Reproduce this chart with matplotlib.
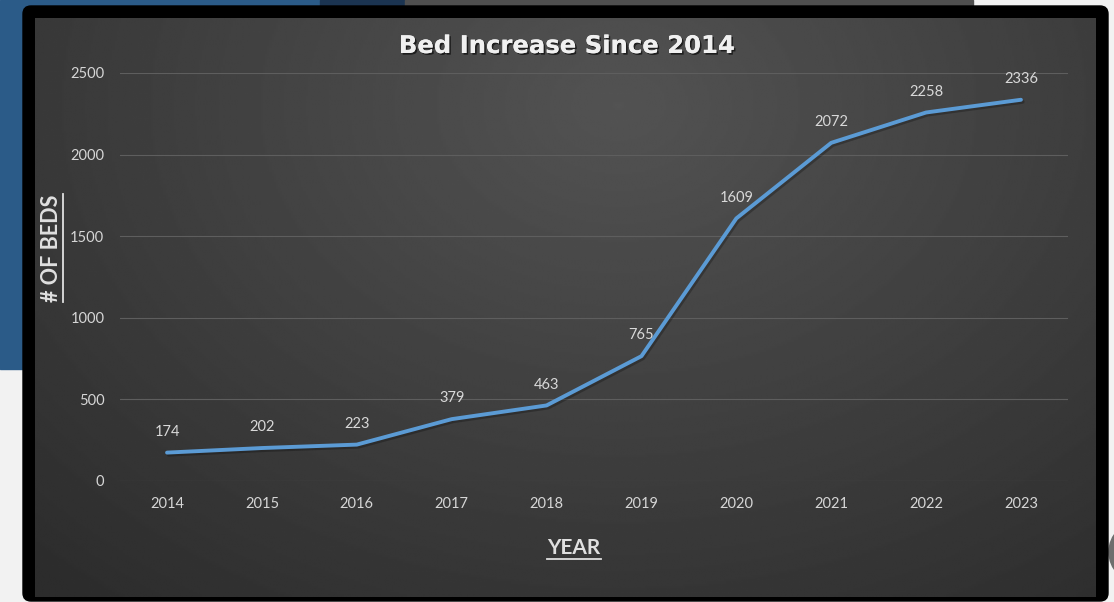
import numpy as np
import matplotlib.pyplot as plt
import matplotlib.patheffects as pe
from matplotlib.patches import Rectangle, FancyBboxPatch, Circle
from matplotlib.lines import Line2D

# Dados do gráfico
anos = ['2014', '2015', '2016', '2017', '2018', '2019', '2020', '2021', '2022', '2023']
leitos = [174, 202, 223, 379, 463, 765, 1609, 2072, 2258, 2336]
marcas_y = [0, 500, 1000, 1500, 2000, 2500]

W, H = 1114, 602
plt.rcParams['font.family'] = ['Lato', 'DejaVu Sans']

fig = plt.figure(figsize=(W / 100, H / 100), dpi=100)
fig.patch.set_facecolor('#f2f2f2')

# Fundo (slide por trás do gráfico), em pixels
bg = fig.add_axes([0, 0, 1, 1])
bg.set_xlim(0, W)
bg.set_ylim(H, 0)
bg.axis('off')
bg.add_patch(Rectangle((0, 0), 330, 369, color='#2b5b88'))
bg.add_patch(Rectangle((320, 0), 85, 20, color='#1b3451'))
bg.add_patch(Rectangle((405, 0), 568, 20, color='#4f4f4f'))
bg.add_patch(Circle((1140, 552), 31, color='#6e6e6e'))

# Moldura preta
bg.add_patch(FancyBboxPatch((31, 14), 1069, 579, boxstyle='round,pad=8', color='black'))

# Painel com degradê radial
gx, gy = np.meshgrid(np.linspace(0, 1, 500), np.linspace(0, 1, 280))
r = np.sqrt(((gx - 0.55) / 0.8) ** 2 + ((gy - 0.15) / 1.1) ** 2)
val = 0.325 - 0.15 * np.clip(r, 0, 1)
bg.imshow(val, cmap='gray', vmin=0, vmax=1, extent=(35, 1096, 597, 18),
          aspect='auto', interpolation='bilinear', zorder=3)
bg.set_xlim(0, W)
bg.set_ylim(H, 0)

# Eixo do gráfico
ax = fig.add_axes([119.6 / W, 121 / H, 948.8 / W, 408 / H])
ax.patch.set_alpha(0)
x = np.arange(len(anos))
ax.plot(x, leitos, color='#5b9bd5', lw=2.8, solid_capstyle='round',
        path_effects=[pe.SimpleLineShadow(offset=(1.2, -1.5), alpha=0.25), pe.Normal()])
ax.set_xlim(-0.5, len(anos) - 0.5)
ax.set_ylim(0, 2500)
ax.set_yticks(marcas_y)
ax.set_xticks(x)
ax.set_xticklabels(anos)
ax.grid(axis='y', color='#5e5e5e', lw=0.8)
ax.set_axisbelow(True)
for s in ax.spines.values():
    s.set_visible(False)
ax.tick_params(length=0, colors='#d6d6d6', labelsize=10.5)
ax.tick_params(axis='y', pad=11)
ax.tick_params(axis='x', pad=11.5)

for i, v in enumerate(leitos):
    ax.annotate(str(v), (i, v), xytext=(0, 15), textcoords='offset points',
                ha='center', va='center', color='#d9d9d9', fontsize=10.5)

sombra = [pe.withSimplePatchShadow(offset=(1.2, -1.2), shadow_rgbFace='black', alpha=0.6), pe.Normal()]
fig.text(566 / W, 1 - 46 / H, 'Bed Increase Since 2014', ha='center', va='center',
         color='#f0f0f0', fontsize=17.5, fontweight='bold', family='DejaVu Sans',
         path_effects=sombra)

t_y = fig.text(51 / W, 1 - 248 / H, '# OF BEDS', ha='center', va='center', rotation=90,
               color='#e0e0e0', fontsize=15.5, fontweight='bold')
t_x = fig.text(574 / W, 1 - 548 / H, 'YEAR', ha='center', va='center',
               color='#e0e0e0', fontsize=15, fontweight='bold')

# Sublinhado dos rótulos
fig.canvas.draw()
rend = fig.canvas.get_renderer()
b = t_x.get_window_extent(rend)
fig.add_artist(Line2D([b.x0 / W, b.x1 / W], [(b.y0 - 1) / H, (b.y0 - 1) / H],
                      transform=fig.transFigure, color='#e0e0e0', lw=1.3))
b = t_y.get_window_extent(rend)
fig.add_artist(Line2D([(b.x1 + 1) / W, (b.x1 + 1) / W], [b.y0 / H, b.y1 / H],
                      transform=fig.transFigure, color='#e0e0e0', lw=1.3))

plt.savefig('out.png', dpi=100, facecolor=fig.get_facecolor())
